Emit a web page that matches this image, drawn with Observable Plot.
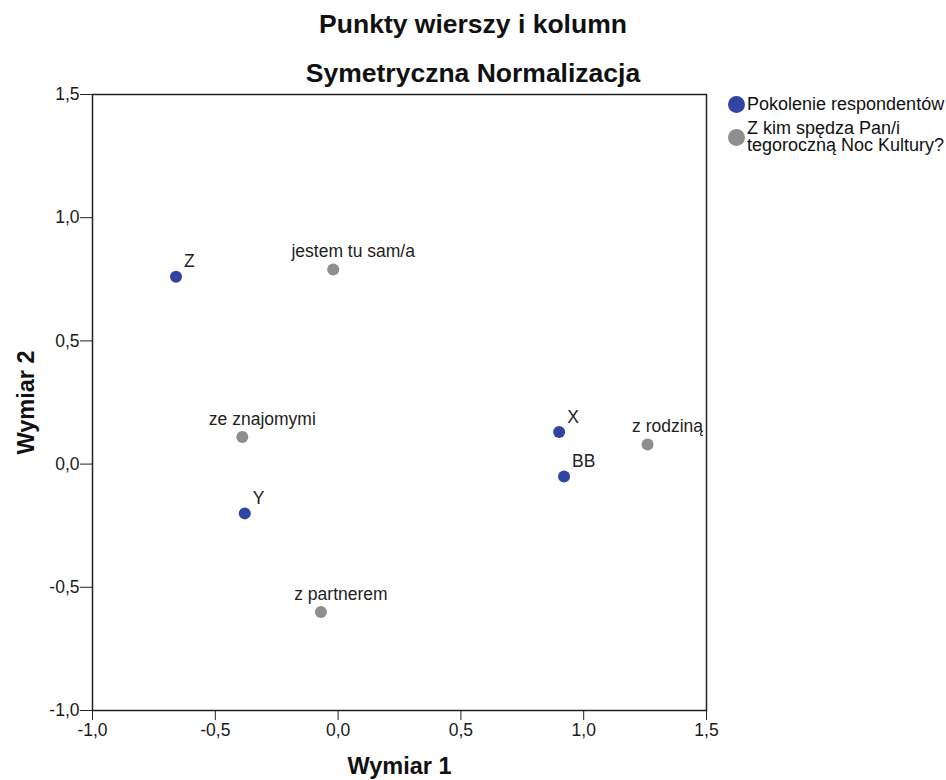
<!DOCTYPE html>
<html>
<head>
<meta charset="utf-8">
<script src="https://cdn.jsdelivr.net/npm/d3@7"></script>
<script src="https://cdn.jsdelivr.net/npm/@observablehq/plot@0.6"></script>
<style>
  body { margin: 0; background: #fff; font-family: "Liberation Sans", Arial, sans-serif; }
  #wrap { position: relative; width: 946px; height: 780px; overflow: hidden; }
  .title { width: 946px; text-align: center; font-weight: bold; font-size: 26.5px; color: #111; white-space: nowrap; }
  #row { display: flex; flex-direction: row; }
  #legend { font-size: 18px; color: #111; padding-top: 12px; padding-left: 8px; }
  .li { display: flex; align-items: center; line-height: 17px; margin-bottom: 7px; }
  .sw { width: 17px; height: 17px; border-radius: 50%; margin-right: 2px; flex: none; }
</style>
</head>
<body>
<div id="wrap">
  <div class="title" style="height:48px;line-height:48px;">Punkty wierszy i kolumn</div>
  <div class="title" style="height:36px;line-height:50px;">Symetryczna Normalizacja</div>
  <div id="row">
    <div id="chart"></div>
    <div id="legend"></div>
  </div>
</div>
<script>
// Row points: Pokolenie respondentów
const rowLabels = ["Z", "Y", "X", "BB"];
const rowDim1 = [-0.66, -0.38, 0.90, 0.92];
const rowDim2 = [0.76, -0.20, 0.13, -0.05];

// Column points: Z kim spędza Pan/i tegoroczną Noc Kultury?
const colLabels = ["jestem tu sam/a", "ze znajomymi", "z partnerem", "z rodziną"];
const colDim1 = [-0.02, -0.39, -0.07, 1.26];
const colDim2 = [0.79, 0.11, -0.60, 0.08];

const axisTicks = [-1.0, -0.5, 0.0, 0.5, 1.0, 1.5];
const seriesNames = ["Pokolenie respondentów", "Z kim spędza Pan/i\ntegoroczną Noc Kultury?"];
const seriesColors = ["#2f44a3", "#8e8e8e"];

const rows = rowLabels.map((l, i) => ({label: l, d1: rowDim1[i], d2: rowDim2[i]}));
const cols = colLabels.map((l, i) => ({label: l, d1: colDim1[i], d2: colDim2[i]}));

const fmt = v => d3.format(".1f")(v).replace(".", ",").replace("−", "-");
const font = "Liberation Sans, Arial, sans-serif";

const chart = Plot.plot({
  width: 720,
  height: 696,
  marginLeft: 92,
  marginRight: 14,
  marginTop: 10,
  marginBottom: 70,
  style: {fontFamily: font, fontSize: "17.5px", color: "#1a1a1a", background: "transparent", overflow: "visible"},
  x: {domain: [-1, 1.5]},
  y: {domain: [-1, 1.5]},
  marks: [
    Plot.axisX(axisTicks, {tickFormat: fmt, tickSize: 10, tickPadding: 3, fontSize: 17.5, label: null, stroke: "#222"}),
    Plot.axisY(axisTicks, {tickFormat: fmt, tickSize: 12, tickPadding: 1, fontSize: 17.5, label: null, stroke: "#222"}),
    Plot.frame({stroke: "#222", strokeWidth: 1.5}),
    Plot.text(["Wymiar 1"], {frameAnchor: "bottom", textAnchor: "middle", dy: 63, fontSize: 23.5, fontWeight: "bold", fill: "#111"}),
    Plot.text(["Wymiar 2"], {frameAnchor: "left", textAnchor: "middle", dx: -66, rotate: -90, fontSize: 23.5, fontWeight: "bold", fill: "#111"}),
    Plot.dot(rows, {x: "d1", y: "d2", r: 6, fill: seriesColors[0]}),
    Plot.dot(cols, {x: "d1", y: "d2", r: 6, fill: seriesColors[1]}),
    Plot.text(rows, {x: "d1", y: "d2", text: "label", textAnchor: "start", dx: 8, dy: -15, fontSize: 17.5, fill: "#222"}),
    Plot.text(cols, {x: "d1", y: "d2", text: "label", dx: 20, dy: -18, fontSize: 17.5, fill: "#222"})
  ]
});
document.getElementById("chart").appendChild(chart);

const legend = document.getElementById("legend");
seriesNames.forEach((name, i) => {
  const item = document.createElement("div");
  item.className = "li";
  const sw = document.createElement("div");
  sw.className = "sw";
  sw.style.background = seriesColors[i];
  const tx = document.createElement("div");
  tx.style.whiteSpace = "pre";
  tx.textContent = name;
  item.appendChild(sw);
  item.appendChild(tx);
  legend.appendChild(item);
});
</script>
</body>
</html>
